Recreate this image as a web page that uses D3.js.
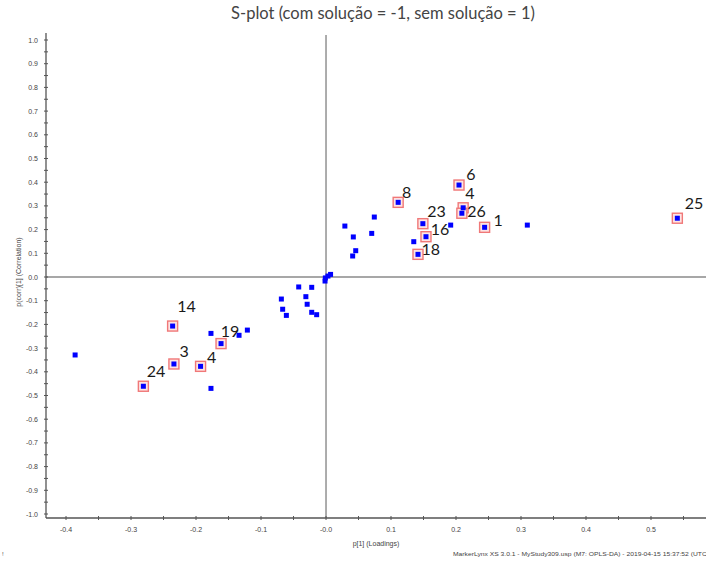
<!DOCTYPE html>
<html>
<head>
<meta charset="utf-8">
<script src="https://cdn.jsdelivr.net/npm/d3@7"></script>
<style>
  html, body { margin: 0; padding: 0; background: #fff; }
  svg { display: block; }
</style>
</head>
<body>
<svg id="chart" width="706" height="562"></svg>
<script>
// ---- data ----
const plainX = [0.1918, 0.3097, 0.0743, 0.029, 0.0703, 0.042, 0.135, 0.0457, 0.041,
  -0.0015, -0.001, 0.003, 0.007,
  -0.042, -0.022, -0.031, -0.0687, -0.029, -0.0667, -0.061, -0.022, -0.0144,
  -0.177, -0.1338, -0.121, -0.177, -0.386];
const plainY = [0.219, 0.219, 0.253, 0.215, 0.184, 0.169, 0.149, 0.111, 0.0886,
  -0.017, -0.004, 0.004, 0.011,
  -0.042, -0.0436, -0.083, -0.093, -0.115, -0.136, -0.162, -0.149, -0.159,
  -0.238, -0.246, -0.224, -0.47, -0.329];
const markedLabels = ["8", "6", "4", "26", "23", "16", "18", "1", "25", "14", "19", "3", "4", "24"];
const markedX = [0.111, 0.2046, 0.211, 0.209, 0.149, 0.1538, 0.1415, 0.244, 0.5405,
  -0.236, -0.1615, -0.234, -0.193, -0.281];
const markedY = [0.315, 0.388, 0.292, 0.269, 0.225, 0.170, 0.0956, 0.2096, 0.248,
  -0.207, -0.281, -0.367, -0.377, -0.461];
const xTickLabels = ["-0.4", "-0.3", "-0.2", "-0.1", "-0.0", "0.1", "0.2", "0.3", "0.4", "0.5"];
const yTickLabels = ["-1.0", "-0.9", "-0.8", "-0.7", "-0.6", "-0.5", "-0.4", "-0.3", "-0.2", "-0.1",
  "0.0", "0.1", "0.2", "0.3", "0.4", "0.5", "0.6", "0.7", "0.8", "0.9", "1.0"];
const titleText = "S-plot (com solução = -1, sem solução = 1)";
const xTitle = "p[1] (Loadings)";
const yTitle = "p(corr)[1] (Correlation)";
const footer = "MarkerLynx XS 3.0.1 - MyStudy309.usp (M7: OPLS-DA) - 2019-04-15 15:37:52 (UTC-";

// ---- layout (label offsets in px, relative to marker) ----
const labelOffsets = [[8.4,-10.6],[12,-11.5],[6.7,-15],[14.7,-3],[13.7,-13],[14,-8.5],[12.7,-6.3],
  [13.6,-8],[16.7,-15.3],[14,-21],[9,-13],[10.3,-13.3],[11,-10.3],[12.7,-15.3]];

(function () {
const svg = d3.select("#chart");
const pLeft = 46, pRight = 706, pTop = 40, pBottom = 514, axisY = 518;
const x = d3.scaleLinear().domain([-0.4308, 0.5846]).range([pLeft, pRight]);
const y = d3.scaleLinear().domain([-1, 1]).range([pBottom, pTop]);

const axisColor = "#555";
const zeroColor = "#8a8a8a";
const tickFont = "'Liberation Sans', Arial, sans-serif";

// title
svg.append("text").attr("x", 383).attr("y", 19).attr("text-anchor", "middle")
  .attr("font-family", "Lato, 'Open Sans', sans-serif").attr("font-size", 16.5).attr("fill", "#444")
  .text(titleText);

// zero lines
svg.append("line").attr("x1", pLeft).attr("x2", pRight).attr("y1", y(0)).attr("y2", y(0))
  .attr("stroke", zeroColor).attr("stroke-width", 1.4);
svg.append("line").attr("x1", x(0)).attr("x2", x(0)).attr("y1", 35).attr("y2", axisY)
  .attr("stroke", zeroColor).attr("stroke-width", 1.4);

// axes lines
svg.append("line").attr("x1", pLeft).attr("x2", pLeft).attr("y1", 33).attr("y2", axisY)
  .attr("stroke", axisColor).attr("stroke-width", 1.3);
svg.append("line").attr("x1", pLeft).attr("x2", pRight).attr("y1", axisY).attr("y2", axisY)
  .attr("stroke", axisColor).attr("stroke-width", 1.3);

// y ticks (every 0.05, labels every 0.1)
const yTicksAll = d3.range(-20, 21).map(i => i * 0.05);
svg.append("g").selectAll("line").data(yTicksAll).join("line")
  .attr("x1", pLeft - 2).attr("x2", pLeft + 2)
  .attr("y1", d => y(d)).attr("y2", d => y(d))
  .attr("stroke", axisColor).attr("stroke-width", 1);
svg.append("g").selectAll("text").data(yTickLabels).join("text")
  .attr("x", pLeft - 8).attr("y", d => y(+d) + 2.5)
  .attr("text-anchor", "end").attr("font-family", tickFont).attr("font-size", 7)
  .attr("fill", "#444").text(d => d);

// x ticks (every 0.05 from -0.4 to 0.55)
const xTicksAll = d3.range(-8, 12).map(i => i * 0.05);
svg.append("g").selectAll("line").data(xTicksAll).join("line")
  .attr("x1", d => x(d)).attr("x2", d => x(d))
  .attr("y1", axisY - 2).attr("y2", axisY + 2)
  .attr("stroke", axisColor).attr("stroke-width", 1);
svg.append("g").selectAll("text").data(xTickLabels).join("text")
  .attr("x", d => x(+d)).attr("y", 532)
  .attr("text-anchor", "middle").attr("font-family", tickFont).attr("font-size", 7)
  .attr("fill", "#444").text(d => d);

// axis titles
svg.append("text").attr("x", 376).attr("y", 546).attr("text-anchor", "middle")
  .attr("font-family", tickFont).attr("font-size", 7).attr("fill", "#444").text(xTitle);
svg.append("text").attr("transform", "translate(21,272) rotate(-90)").attr("text-anchor", "middle")
  .attr("font-family", tickFont).attr("font-size", 7).attr("fill", "#444").text(yTitle);

// footer
svg.append("text").attr("x", 453).attr("y", 556)
  .attr("font-family", tickFont).attr("font-size", 6).attr("fill", "#444")
  .attr("textLength", 256).attr("lengthAdjust", "spacingAndGlyphs").text(footer);
svg.append("text").attr("x", 2).attr("y", 556).attr("font-family", tickFont)
  .attr("font-size", 6).attr("fill", "#444").text("!");

// highlight boxes
const marked = markedLabels.map((l, i) => ({l, x: markedX[i], y: markedY[i], o: labelOffsets[i]}));
svg.append("g").selectAll("rect").data(marked).join("rect")
  .attr("x", d => x(d.x) - 5).attr("y", d => y(d.y) - 5)
  .attr("width", 10).attr("height", 10)
  .attr("fill", "#fde4e4").attr("stroke", "#f07878").attr("stroke-width", 1.4);

// plain points + marked points (blue squares)
const allPts = plainX.map((v, i) => ({x: v, y: plainY[i]}))
  .concat(marked.map(d => ({x: d.x, y: d.y})));
svg.append("g").selectAll("rect").data(allPts).join("rect")
  .attr("x", d => x(d.x) - 2.5).attr("y", d => y(d.y) - 2.5)
  .attr("width", 5).attr("height", 5).attr("fill", "#0000ff");

// labels
svg.append("g").selectAll("text").data(marked).join("text")
  .attr("x", d => x(d.x) + d.o[0]).attr("y", d => y(d.y) + d.o[1])
  .attr("text-anchor", "middle").attr("dominant-baseline", "central")
  .attr("font-family", "Lato, 'Open Sans', sans-serif").attr("font-size", 16).attr("fill", "#1a1a1a")
  .text(d => d.l);
})();
</script>
</body>
</html>
